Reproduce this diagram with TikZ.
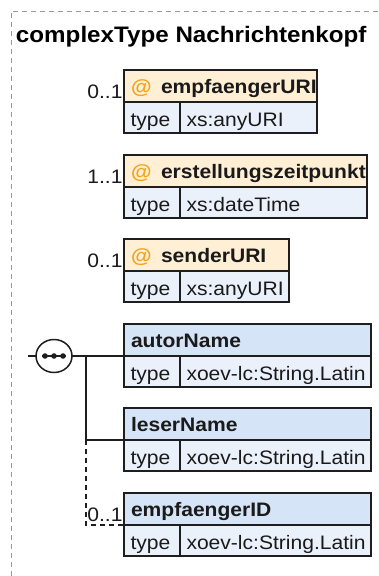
\documentclass[tikz,border=0pt]{standalone}
\usepackage{fontspec}
\setmainfont{Liberation Sans}[FakeStretch=1.08]
\usepackage{tikz}
\usetikzlibrary{shapes.geometric}

\definecolor{attrfill}{HTML}{FFEFD5}
\definecolor{elemfill}{HTML}{D6E4F7}
\definecolor{rowfill}{HTML}{EAF1FB}
\definecolor{attrorange}{HTML}{F4A21B}
\definecolor{boxline}{HTML}{1E1E1E}
\definecolor{framegray}{HTML}{9A9A9A}
\definecolor{textgray}{HTML}{1A1A1A}

\newcommand{\attrat}{\makebox[30pt][l]{\textcolor{attrorange}{@}}}

\begin{document}
\begin{tikzpicture}[x=1pt,y=-1pt,line width=1.5pt]
  \tikzset{every node/.style={inner sep=0pt,outer sep=0pt,font=\fontsize{19.5}{23}\selectfont,text=textgray}}
  \tikzset{cell/.style={draw=boxline,fill=rowfill,anchor=north west,align=left,inner xsep=6.5pt,minimum height=31pt,text height=20pt,text depth=2pt}}
  \tikzset{head/.style={cell,inner xsep=7pt,minimum height=32pt,text height=18.5pt,text depth=3.5pt,font=\fontsize{19.5}{23}\selectfont\bfseries}}
  \tikzset{attrhead/.style={head,fill=attrfill}}
  \tikzset{elemhead/.style={head,fill=elemfill}}
  \tikzset{typecell/.style={cell,text width=43pt}}
  \tikzset{card/.style={anchor=base east}}
  \tikzset{frame/.style={draw=framegray,line width=1pt,dash pattern=on 5pt off 4pt}}

  \useasboundingbox (0,0) rectangle (379,576);
  \draw[frame] (11,576) |- (379,11);

  \node[anchor=base west,font=\fontsize{22.4}{27}\selectfont\bfseries,text=black] (title) at (16,42) {complexType Nachrichtenkopf};

  % attributes
  \node[attrhead,text width=179pt] (empfaengerURI) at (124,70) {\attrat empfaengerURI};
  \node[typecell] (empfaengerURItype) at (empfaengerURI.south west) {type};
  \node[cell,text width=124pt] (empfaengerURIval) at (empfaengerURItype.north east) {xs:anyURI};
  \node[card] (empfaengerURIcard) at ([xshift=-1.5pt,yshift=3.5pt]empfaengerURI.south west) {0..1};

  \node[attrhead,text width=229pt] (erstellungszeitpunkt) at (124,155) {\attrat erstellungszeitpunkt};
  \node[typecell] (erstellungszeitpunkttype) at (erstellungszeitpunkt.south west) {type};
  \node[cell,text width=174pt] (erstellungszeitpunktval) at (erstellungszeitpunkttype.north east) {xs:dateTime};
  \node[card] (erstellungszeitpunktcard) at ([xshift=-1.5pt,yshift=3.5pt]erstellungszeitpunkt.south west) {1..1};

  \node[attrhead,text width=151pt] (senderURI) at (124,239) {\attrat senderURI};
  \node[typecell] (senderURItype) at (senderURI.south west) {type};
  \node[cell,text width=96pt] (senderURIval) at (senderURItype.north east) {xs:anyURI};
  \node[card] (senderURIcard) at ([xshift=-1.5pt,yshift=3.5pt]senderURI.south west) {0..1};

  % elements
  \node[elemhead,text width=233pt] (autorName) at (124,324) {autorName};
  \node[typecell] (autorNametype) at (autorName.south west) {type};
  \node[cell,text width=178pt] (autorNameval) at (autorNametype.north east) {\mbox{xoev-lc:String.Latin}};

  \node[elemhead,text width=233pt] (leserName) at (124,408) {leserName};
  \node[typecell] (leserNametype) at (leserName.south west) {type};
  \node[cell,text width=178pt] (leserNameval) at (leserNametype.north east) {\mbox{xoev-lc:String.Latin}};

  \node[elemhead,text width=233pt] (empfaengerID) at (124,493) {empfaengerID};
  \node[typecell] (empfaengerIDtype) at (empfaengerID.south west) {type};
  \node[cell,text width=178pt] (empfaengerIDval) at (empfaengerIDtype.north east) {\mbox{xoev-lc:String.Latin}};
  \node[card] (empfaengerIDcard) at ([xshift=-1.5pt,yshift=3.5pt]empfaengerID.south west) {0..1};

  % sequence
  \node[ellipse,draw=boxline,fill=white,minimum width=36pt,minimum height=33pt] (seq) at (54,356) {};
  \draw[boxline,line width=1.8pt] ([xshift=-12pt]seq.center) -- ([xshift=12pt]seq.center);
  \foreach \dx in {-9,0,9}
    \fill[boxline] ([xshift=\dx pt]seq.center) circle (2.8pt);

  \coordinate (seqin) at (28,356);
  \coordinate (fork) at (86,356);
  \draw[boxline] (seqin) -- (seq.west);
  \draw[boxline] (seq.east) -- (autorName.south west);
  \draw[boxline] (fork) |- (leserName.south west);
  \draw[boxline,dash pattern=on 5pt off 4pt] (leserName.south west -| fork) |- (empfaengerID.south west);
\end{tikzpicture}
\end{document}
